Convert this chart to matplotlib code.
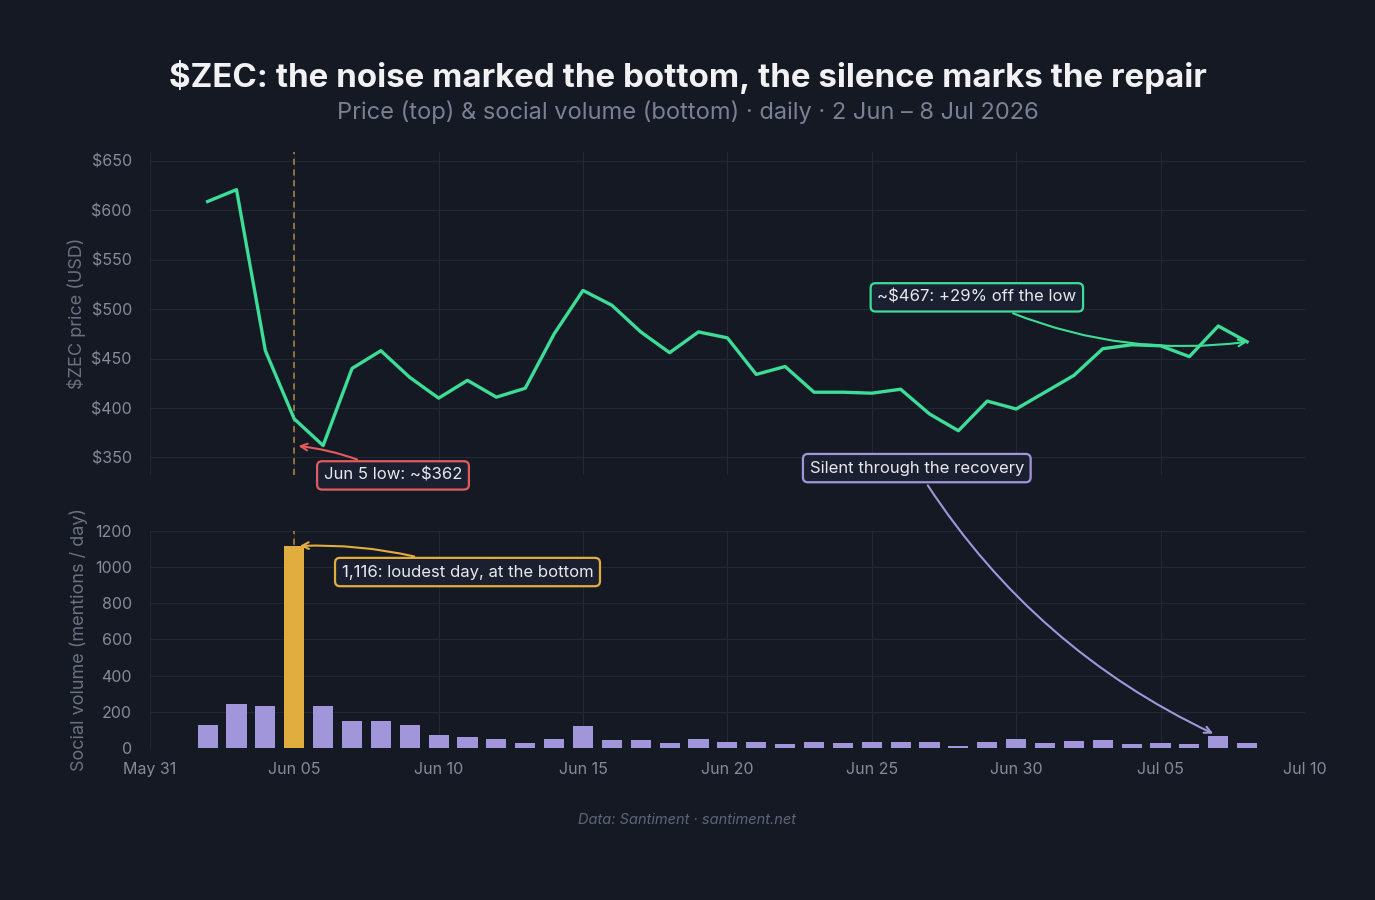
# $ZEC price vs social volume, two stacked panels

import matplotlib
matplotlib.use("Agg")
from matplotlib import pyplot as plt
import matplotlib.dates as mdates
import pandas as pd

plt.rcParams["font.family"] = ["Inter", "DejaVu Sans"]

# Data
dates = pd.date_range("2026-06-02", "2026-07-08", freq="D")

price = [609, 621, 458, 389, 362, 440, 458, 431, 410, 428, 411, 420,
         475, 519, 504, 477, 456, 477, 471, 434, 442, 416, 416, 415,
         419, 394, 377, 407, 399, 416, 433, 460, 464, 463, 452, 483, 467]

social = [127, 243, 234, 1116, 234, 151, 151, 127, 72, 63, 50, 26, 50,
          122, 44, 44, 26, 50, 35, 32, 20, 33, 28, 35, 35, 35, 11, 35, 50,
          26, 40, 44, 22, 28, 22, 66, 28]

price_ticks = [350, 400, 450, 500, 550, 600, 650]
social_ticks = [0, 200, 400, 600, 800, 1000, 1200]
tick_dates = pd.date_range("2026-05-31", "2026-07-10", freq="5D")

# Colours
bg = "#141923"
grid_c = "#222835"
tick_c = "#858b99"
green = "#3ddc97"
purple = "#a196da"
gold = "#e2ad3f"
red = "#e05c5f"
box_bg = "#1b2030"

fig = plt.figure(figsize=(13.75, 9), dpi=100, facecolor=bg)
ax1 = fig.add_axes([0.109, 0.472, 0.84, 0.359], facecolor=bg)
ax2 = fig.add_axes([0.109, 0.169, 0.84, 0.241], facecolor=bg)

x0 = pd.Timestamp("2026-05-31")
x1 = pd.Timestamp("2026-07-10")
bottom_day = pd.Timestamp("2026-06-05")

for ax in (ax1, ax2):
    ax.set_xlim(x0, x1)
    ax.set_xticks(tick_dates)
    ax.grid(True, color=grid_c, linewidth=0.8)
    ax.set_axisbelow(True)
    for s in ax.spines.values():
        s.set_visible(False)
    ax.tick_params(length=0, colors=tick_c, labelsize=11.5)
    ax.tick_params(axis="y", pad=13)
    ax.axvline(bottom_day, color=gold, linestyle=(0, (4, 3)),
               linewidth=1.1, alpha=0.75, zorder=1)

# Top panel: price
ax1.plot(dates, price, color=green, linewidth=2.4, zorder=3)
ax1.set_ylim(332, 659)
ax1.set_yticks(price_ticks)
ax1.set_yticklabels(["$" + str(v) for v in price_ticks])
ax1.tick_params(axis="x", labelbottom=False)
ax1.set_ylabel("$ZEC price (USD)", color="#6b7180", fontsize=13, labelpad=4)

# Bottom panel: social volume
bar_cols = [gold if d == bottom_day else purple for d in dates]
ax2.bar(dates, social, width=0.7, color=bar_cols, zorder=3)
ax2.set_ylim(0, 1200)
ax2.set_yticks(social_ticks)
ax2.xaxis.set_major_formatter(mdates.DateFormatter("%b %d"))
ax2.tick_params(axis="x", pad=10)
ax2.set_ylabel("Social volume (mentions / day)", color="#6b7180",
               fontsize=13, labelpad=5)

# Annotations
def box(edge):
    return dict(boxstyle="round,pad=0.4,rounding_size=0.3", fc=box_bg,
                ec=edge, lw=1.6)

ax1.annotate("Jun 5 low: ~$362", xy=(bottom_day, min(price)),
             xytext=(x0 + pd.Timedelta(days=8.42), 331.8),
             textcoords="data", ha="center", va="center",
             color="#e8e8ee", fontsize=12, bbox=box(red),
             arrowprops=dict(arrowstyle="->", color=red, lw=1.5,
                             shrinkB=3, connectionstyle="arc3,rad=0.1"),
             annotation_clip=False, zorder=5)

ax1.annotate("~$467: +29% off the low", xy=(dates[-1], price[-1]),
             xytext=(x0 + pd.Timedelta(days=28.64), 512),
             ha="center", va="center", color="#e8e8ee", fontsize=12,
             bbox=box(green),
             arrowprops=dict(arrowstyle="->", color=green, lw=1.5,
                             shrinkB=0, connectionstyle="arc3,rad=0.15"),
             zorder=5)

ax2.annotate("1,116: loudest day, at the bottom", xy=(bottom_day, 1116),
             xytext=(x0 + pd.Timedelta(days=11.0), 973),
             ha="center", va="center", color="#e8e8ee", fontsize=12,
             bbox=box(gold),
             arrowprops=dict(arrowstyle="->", color=gold, lw=1.5,
                             shrinkB=4, connectionstyle="arc3,rad=0.1"),
             zorder=5)

ax2.annotate("Silent through the recovery", xy=(dates[-2], social[-2]),
             xytext=(x0 + pd.Timedelta(days=26.56), 1548),
             ha="center", va="center", color="#e8e8ee", fontsize=12,
             bbox=box(purple),
             arrowprops=dict(arrowstyle="->", color=purple, lw=1.5,
                             shrinkB=4, connectionstyle="arc3,rad=0.15"),
             annotation_clip=False, zorder=5)

# Titles and footer
fig.text(0.5, 0.915, "$ZEC: the noise marked the bottom, the silence marks the repair",
         ha="center", va="center", color="#f2f2f5", fontsize=23.8,
         fontweight="bold")
fig.text(0.5, 0.875, "Price (top) & social volume (bottom) \u00b7 daily \u00b7 2 Jun \u2013 8 Jul 2026",
         ha="center", va="center", color="#7b8194", fontsize=17)
fig.text(0.5, 0.089, "Data: Santiment \u00b7 santiment.net", ha="center",
         va="center", color="#5f6577", fontsize=10.5, style="italic")

fig.savefig("out.png", dpi=100, facecolor=bg)
